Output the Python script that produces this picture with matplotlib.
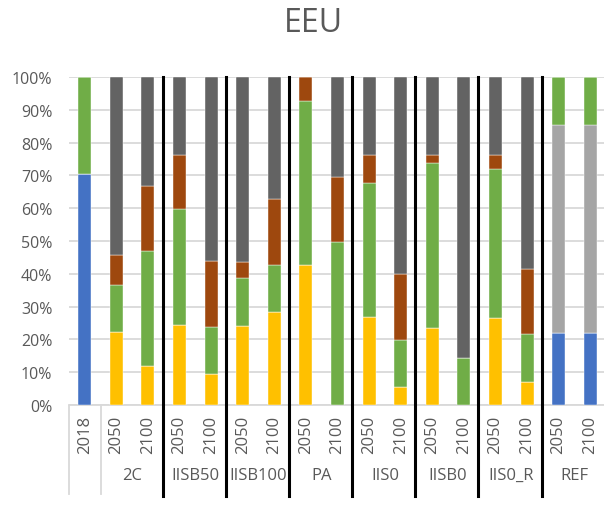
import numpy as np
import matplotlib.pyplot as plt
import matplotlib.transforms as mtransforms

plt.rcParams['font.family'] = ['Open Sans', 'DejaVu Sans']

# categories
years = ['2018', '2050', '2100', '2050', '2100', '2050', '2100', '2050', '2100',
         '2050', '2100', '2050', '2100', '2050', '2100', '2050', '2100']
groups = ['', '2C', 'IISB50', 'IISB100', 'PA', 'IIS0', 'IISB0', 'IIS0_R', 'REF']
group_sizes = [1, 2, 2, 2, 2, 2, 2, 2, 2]

# series values (%), stacked bottom to top
blue = [70.4, 0, 0, 0, 0, 0, 0, 0, 0, 0, 0, 0, 0, 0, 0, 22.0, 22.0]
yellow = [0, 22.2, 12.0, 24.5, 9.3, 24.1, 28.3, 42.7, 0, 26.8, 5.4, 23.6, 0, 26.4, 7.0, 0, 0]
lgrey = [0, 0, 0, 0, 0, 0, 0, 0, 0, 0, 0, 0, 0, 0, 0, 63.5, 63.5]
green = [29.6, 14.4, 35.0, 35.4, 14.5, 14.6, 14.5, 50.1, 49.6, 40.9, 14.4, 50.1, 14.3, 45.7, 14.6, 14.5, 14.5]
brown = [0, 9.1, 19.9, 16.2, 20.0, 4.9, 20.0, 7.2, 19.9, 8.4, 20.1, 2.4, 0, 4.0, 19.9, 0, 0]
dgrey = [0, 54.3, 33.1, 23.9, 56.2, 56.4, 37.2, 0, 30.5, 23.9, 60.1, 23.9, 85.7, 23.9, 58.5, 0, 0]

series = [(blue, '#4472C4'), (yellow, '#FFC000'), (lgrey, '#A5A5A5'),
          (green, '#70AD47'), (brown, '#9E480E'), (dgrey, '#636363')]

fig = plt.figure(figsize=(6.04, 5.06), dpi=100)
ax = fig.add_axes([69/604, 100/506, 537/604, 328/506])

x = np.arange(len(years))
bottom = np.zeros(len(years))
for vals, col in series:
    vals = np.array(vals)
    ax.bar(x, vals, 0.41, bottom=bottom, color=col, edgecolor='white', linewidth=0.3, zorder=3)
    bottom += vals

ax.set_xlim(-0.5, len(years) - 0.5)
ax.set_ylim(0, 100)
ax.set_yticks(np.arange(0, 101, 10))
ax.set_yticklabels([f'{v}%' for v in range(0, 101, 10)])
ax.tick_params(axis='y', length=0, pad=12, labelsize=11.5, labelcolor='#595959')
ax.set_xticks([])
ax.grid(axis='y', color='#D9D9D9', linewidth=1.3, zorder=0)
for s in ['top', 'right', 'left']:
    ax.spines[s].set_visible(False)
ax.spines['bottom'].set_color('#D9D9D9')
ax.spines['bottom'].set_linewidth(1.3)

trans = mtransforms.blended_transform_factory(ax.transData, fig.transFigure)

# year labels
for i, y in enumerate(years):
    ax.text(i, 1 - 435/506, y, transform=trans, rotation=90, ha='center', va='center',
            fontsize=12, color='#595959')

# group labels
start = 0
for g, n in zip(groups, group_sizes):
    ax.text(start + (n - 1) / 2, 1 - 476/506, g, transform=trans, ha='center', va='center',
            fontsize=12, color='#595959')
    start += n

# grey axis category lines
for xb in [-0.5, 0.5]:
    ax.plot([xb, xb], [1 - 407/506, 1 - 495/506], transform=trans, color='#D9D9D9',
            linewidth=1.3, clip_on=False)

# black divider lines between scenarios
edges = np.cumsum(group_sizes)[1:-1] - 0.5
for xb in edges:
    ax.plot([xb - 0.04, xb - 0.04], [1 - 78/506, 1 - 497/506], transform=trans, color='black',
            linewidth=2.2, clip_on=False, zorder=5)

fig.text(0.519, 1 - 24/506, 'EEU', ha='center', va='center', fontsize=23, color='#595959')

fig.savefig('out.png', dpi=100)
